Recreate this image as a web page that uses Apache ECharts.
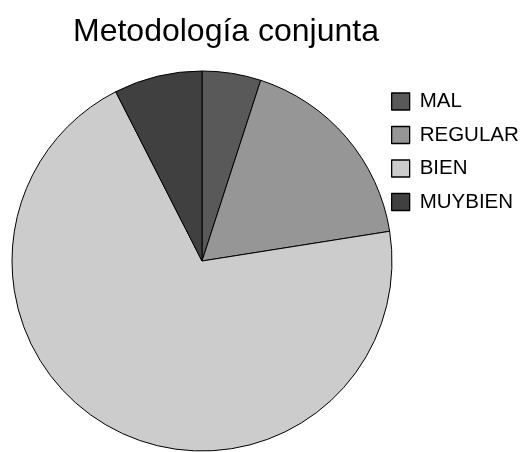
<!DOCTYPE html>
<html>
<head>
<meta charset="utf-8">
<script src="https://cdn.jsdelivr.net/npm/echarts@6/dist/echarts.min.js"></script>
<style>
  html, body { margin: 0; padding: 0; background: #fff; }
  #chart { width: 528px; height: 452px; }
</style>
</head>
<body>
<div id="chart"></div>
<script>
// datos
const categories = ['MAL', 'REGULAR', 'BIEN', 'MUYBIEN']
const values = [5, 17.5, 70, 7.5]
const colors = ['#595959', '#969696', '#cccccc', '#404040']

const chart = echarts.init(document.getElementById('chart'))

chart.setOption({
  animation: false,
  title: {
    text: 'Metodología conjunta',
    left: 221,
    textAlign: 'center',
    top: 11,
    textStyle: { fontFamily: 'Liberation Sans', fontSize: 32, fontWeight: 'normal', color: '#000' }
  },
  legend: {
    orient: 'vertical',
    left: 386,
    top: 86,
    icon: 'rect',
    itemWidth: 18,
    itemHeight: 17,
    itemGap: 12.5,
    data: categories,
    itemStyle: { borderColor: '#000', borderWidth: 1.3 },
    textStyle: { fontFamily: 'Liberation Sans', fontSize: 20.5, lineHeight: 20, color: '#000', padding: [0, 0, 0, 5] }
  },
  series: [{
    type: 'pie',
    center: [202, 261],
    radius: 190,
    startAngle: 90,
    clockwise: true,
    label: { show: false },
    labelLine: { show: false },
    itemStyle: { borderColor: '#000', borderWidth: 1 },
    emphasis: { disabled: true },
    data: categories.map((name, i) => ({
      name,
      value: values[i],
      itemStyle: { color: colors[i] }
    }))
  }]
})
</script>
</body>
</html>
